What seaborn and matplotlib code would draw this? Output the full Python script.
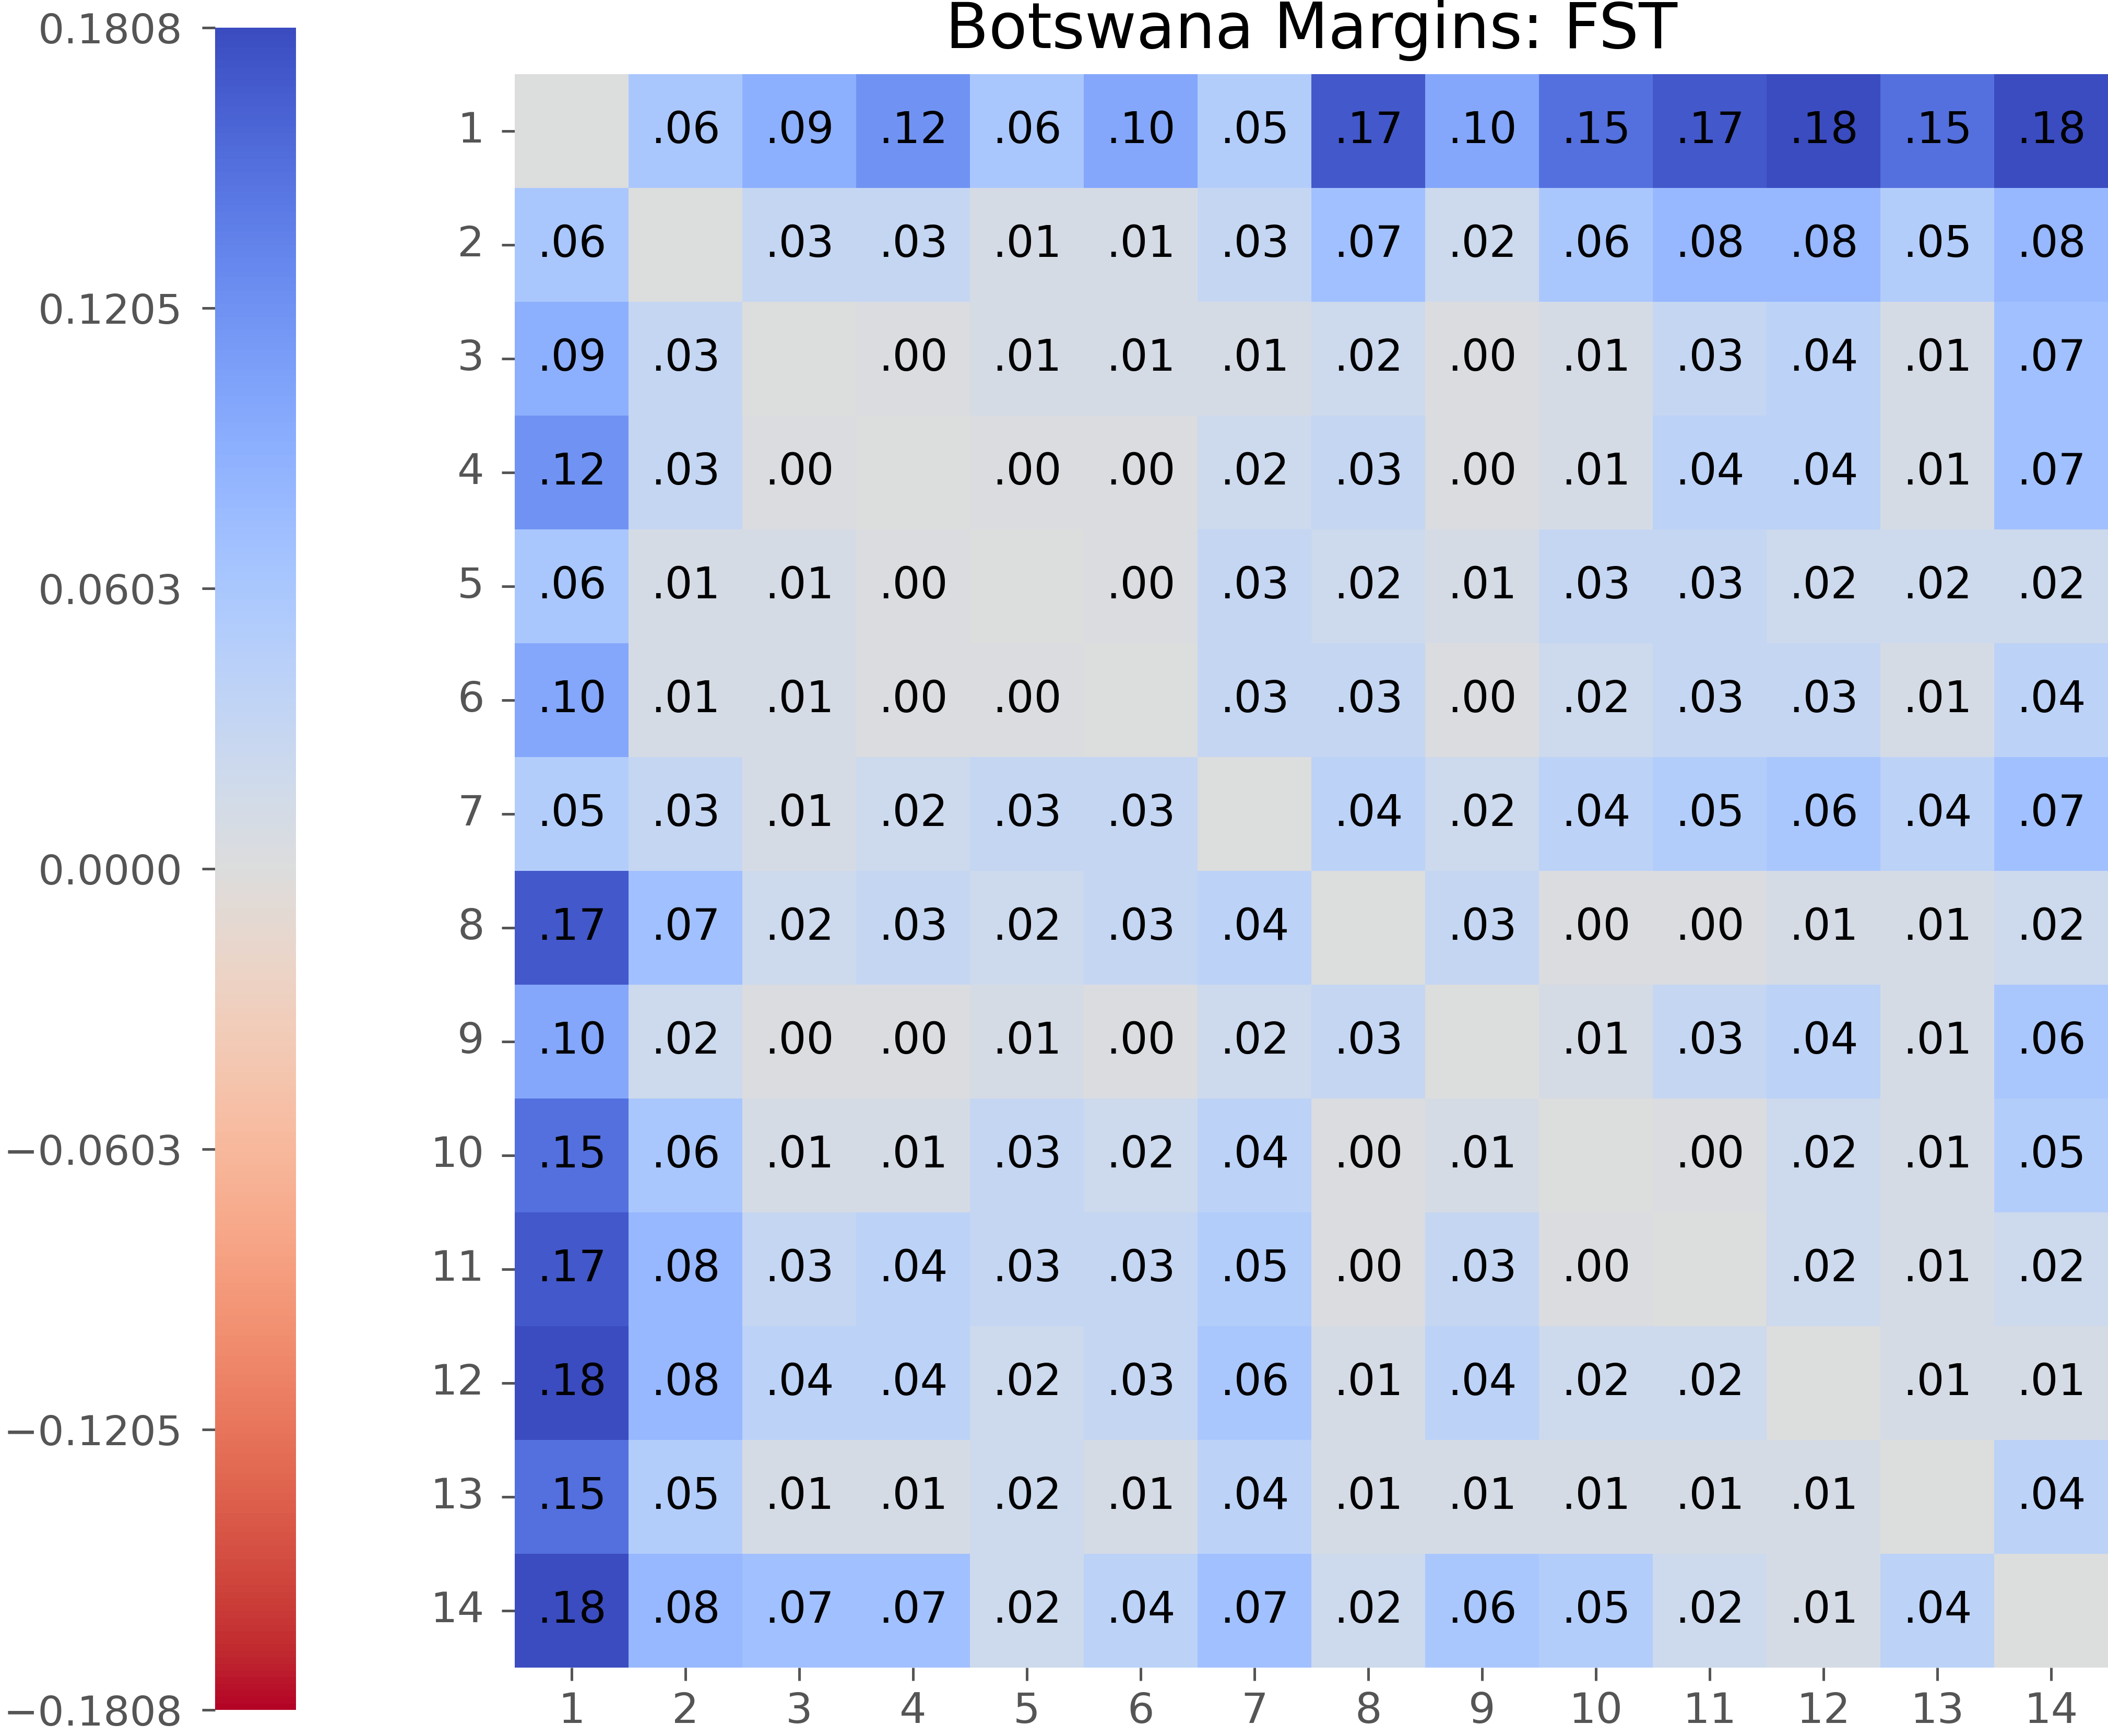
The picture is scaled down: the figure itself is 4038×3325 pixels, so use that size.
import numpy as np
import pandas as pd
import matplotlib
matplotlib.use("Agg")
import matplotlib.pyplot as plt
import seaborn as sns
from matplotlib.ticker import FuncFormatter

# ---- data -------------------------------------------------------------
labels = [str(i) for i in range(1, 15)]

row_01 = [0.0, 0.06, 0.09, 0.12, 0.06, 0.10, 0.05, 0.17, 0.10, 0.15, 0.17, 0.18, 0.15, 0.1808]
row_02 = [0.06, 0.0, 0.03, 0.03, 0.01, 0.01, 0.03, 0.07, 0.02, 0.06, 0.08, 0.08, 0.05, 0.08]
row_03 = [0.09, 0.03, 0.0, 0.003, 0.01, 0.01, 0.01, 0.02, 0.003, 0.01, 0.03, 0.04, 0.01, 0.07]
row_04 = [0.12, 0.03, 0.003, 0.0, 0.003, 0.003, 0.02, 0.03, 0.003, 0.01, 0.04, 0.04, 0.01, 0.07]
row_05 = [0.06, 0.01, 0.01, 0.003, 0.0, 0.003, 0.03, 0.02, 0.01, 0.03, 0.03, 0.02, 0.02, 0.02]
row_06 = [0.10, 0.01, 0.01, 0.003, 0.003, 0.0, 0.03, 0.03, 0.003, 0.02, 0.03, 0.03, 0.01, 0.04]
row_07 = [0.05, 0.03, 0.01, 0.02, 0.03, 0.03, 0.0, 0.04, 0.02, 0.04, 0.05, 0.06, 0.04, 0.07]
row_08 = [0.17, 0.07, 0.02, 0.03, 0.02, 0.03, 0.04, 0.0, 0.03, 0.003, 0.003, 0.01, 0.01, 0.02]
row_09 = [0.10, 0.02, 0.003, 0.003, 0.01, 0.003, 0.02, 0.03, 0.0, 0.01, 0.03, 0.04, 0.01, 0.06]
row_10 = [0.15, 0.06, 0.01, 0.01, 0.03, 0.02, 0.04, 0.003, 0.01, 0.0, 0.003, 0.02, 0.01, 0.05]
row_11 = [0.17, 0.08, 0.03, 0.04, 0.03, 0.03, 0.05, 0.003, 0.03, 0.003, 0.0, 0.02, 0.01, 0.02]
row_12 = [0.18, 0.08, 0.04, 0.04, 0.02, 0.03, 0.06, 0.01, 0.04, 0.02, 0.02, 0.0, 0.01, 0.01]
row_13 = [0.15, 0.05, 0.01, 0.01, 0.02, 0.01, 0.04, 0.01, 0.01, 0.01, 0.01, 0.01, 0.0, 0.04]
row_14 = [0.1808, 0.08, 0.07, 0.07, 0.02, 0.04, 0.07, 0.02, 0.06, 0.05, 0.02, 0.01, 0.04, 0.0]

title = "Botswana Margins: FST"
vlimit = 0.1808
cbar_ticks = [-0.1808, -0.1205, -0.0603, 0.0, 0.0603, 0.1205, 0.1808]

# ---- build table ------------------------------------------------------
rows = [row_01, row_02, row_03, row_04, row_05, row_06, row_07,
        row_08, row_09, row_10, row_11, row_12, row_13, row_14]
df = pd.DataFrame(rows, index=labels, columns=labels)

def fmt_val(v):
    return f"{v:.2f}".lstrip("0")

annot = np.array([["" if i == j else fmt_val(df.iat[i, j])
                   for j in range(len(labels))] for i in range(len(labels))])

# ---- plot -------------------------------------------------------------
sns.set_theme(style="white")
plt.rcParams["font.family"] = ["DejaVu Sans"]

fig = plt.figure(figsize=(4038 / 300, 3325 / 300), dpi=300)
ax = fig.add_axes([0.2442, 0.0395, 0.7558, 0.9178])
cax = fig.add_axes([0.102, 0.0150, 0.0384, 0.969])

sns.heatmap(df, ax=ax, cbar_ax=cax, cmap="coolwarm_r",
            vmin=-vlimit, vmax=vlimit,
            annot=annot, fmt="", annot_kws={"size": 20, "color": "black"},
            xticklabels=labels, yticklabels=labels)

ax.set_title(title, fontsize=29, color="black", pad=12)
ax.tick_params(axis="both", which="both", bottom=True, left=True,
               length=6, width=1.2, color="#555555", labelcolor="#555555",
               labelsize=19.5, pad=8)
ax.tick_params(axis="x", pad=5)
ax.set_yticklabels(labels, rotation=0)
ax.set_xticklabels(labels, rotation=0)
ax.set_xlabel("")
ax.set_ylabel("")

cax.yaxis.set_ticks_position("left")
cax.yaxis.set_label_position("left")
cax.set_yticks(cbar_ticks)
cax.yaxis.set_major_formatter(FuncFormatter(lambda x, p: f"{x:.4f}".replace("-", "\u2212")))
cax.tick_params(axis="y", left=True, right=False, length=6, width=1.2,
                color="#555555", labelcolor="#555555", labelsize=19, pad=9)

fig.savefig("out.png", dpi=300)
